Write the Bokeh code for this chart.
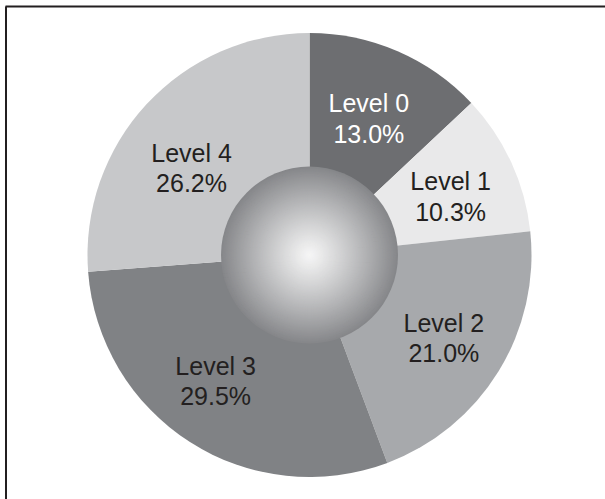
import math
from bokeh.plotting import figure
from bokeh.models import Range1d, ColumnDataSource
from bokeh.embed import file_html
from bokeh.resources import INLINE
from bokeh.core.properties import value

# ---- data ----
levels = ["Level 0", "Level 1", "Level 2", "Level 3", "Level 4"]
shares = [13.0, 10.3, 21.0, 29.5, 26.2]
slice_colors = ["#6d6e71", "#e9e9ea", "#a7a9ac", "#808285", "#c7c8ca"]
label_colors = ["#ffffff", "#231f20", "#231f20", "#231f20", "#231f20"]

# ---- layout ----
W, H = 605, 499
cx, cy = 309.0, H - 254.5
R_OUT = 222.0
R_IN = 88.5
R_LABEL = 152.0
# small manual label nudges (pixels, right / down)
label_nudge = [(-1, 3), (3, 5), (5, 3.5), (-12, -2), (-6.5, 16.5)]

total = sum(shares)
starts, ends, lx, ly, texts = [], [], [], [], []
cum = 0.0
for (lev, s), (ndx, ndy) in zip(zip(levels, shares), label_nudge):
    a0 = math.pi / 2 - 2 * math.pi * cum / total
    a1 = math.pi / 2 - 2 * math.pi * (cum + s) / total
    starts.append(a0)
    ends.append(a1)
    mid = (a0 + a1) / 2
    lx.append(cx + R_LABEL * math.cos(mid) + ndx)
    ly.append(cy + R_LABEL * math.sin(mid) - ndy)
    texts.append(f"{lev}\n{s:.1f}%")
    cum += s

src = ColumnDataSource(dict(start=starts, end=ends, color=slice_colors,
                            x=lx, y=ly, text=texts, tcolor=label_colors))

p = figure(width=W, height=H, output_backend="svg", toolbar_location=None,
           x_range=Range1d(0, W), y_range=Range1d(0, H),
           x_axis_location=None, y_axis_location=None,
           min_border=0, min_border_left=0, min_border_right=0,
           min_border_top=0, min_border_bottom=0)
p.outline_line_color = None
p.xgrid.grid_line_color = None
p.ygrid.grid_line_color = None
p.background_fill_color = "#ffffff"
p.border_fill_color = "#ffffff"

p.wedge(x=cx, y=cy, radius=R_OUT, start_angle="start", end_angle="end",
        direction="clock", fill_color="color", line_color=None, source=src)

# radial gradient centre sphere
N = 90
for i in range(N):
    t = 1.0 - i / N
    r = R_IN * t
    g = 246 - (246 - 134) * (t ** 1.1)
    b = min(255, g + 4 * t)
    col = "#%02x%02x%02x" % (int(round(g)), int(round(g + 1 * t)), int(round(b)))
    p.scatter(x=[cx], y=[cy], size=2 * r, marker="circle",
              fill_color=col, line_color=None)

p.text(x="x", y="y", text="text", source=src, text_color="tcolor",
       text_font=value("Liberation Sans"), text_font_size="25px",
       text_align="center", text_baseline="middle", text_line_height=1.08)

# frame lines (top and left)
p.line(x=[5, W], y=[H - 6, H - 6], line_color="#231f20", line_width=2)
p.line(x=[5.5, 5.5], y=[H - 6, 0], line_color="#231f20", line_width=2)

open("out.html", "w").write(file_html(p, INLINE))
